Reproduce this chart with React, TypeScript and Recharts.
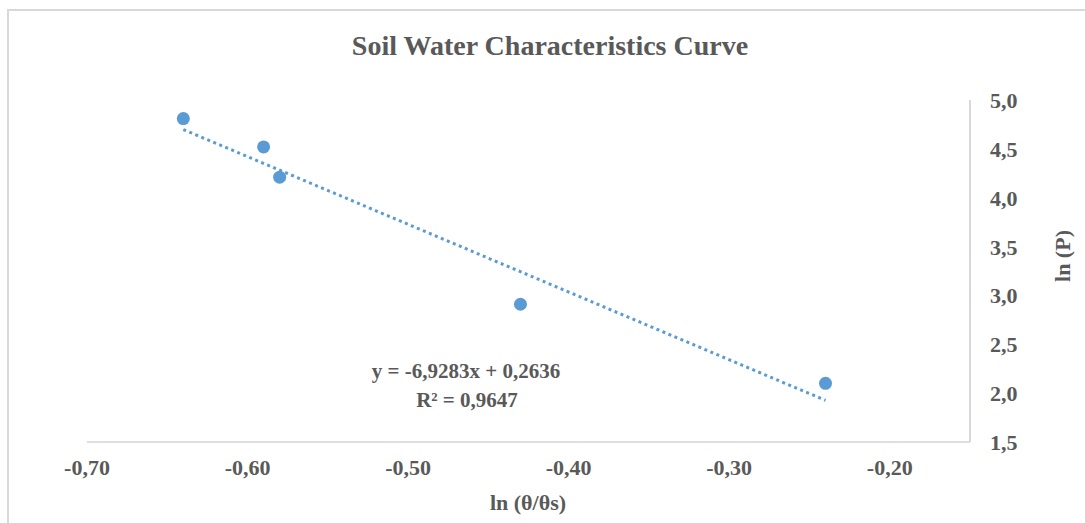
import React from "react";
import { ScatterChart, Scatter, XAxis, YAxis } from "recharts";

const xValues = [-0.64, -0.59, -0.58, -0.43, -0.24];
const yValues = [4.81, 4.52, 4.21, 2.91, 2.1];
const xTicks = [-0.7, -0.6, -0.5, -0.4, -0.3, -0.2];
const yTicks = [1.5, 2.0, 2.5, 3.0, 3.5, 4.0, 4.5, 5.0];
const slope = -6.9283;
const intercept = 0.2636;
const rSquared = 0.9647;

const title = "Soil Water Characteristics Curve";
const xTitle = "ln (θ/θs)";
const yTitle = "ln (P)";

const points = xValues.map((x, i) => ({ x, y: yValues[i] }));
const xMin = Math.min(...xValues);
const xMax = Math.max(...xValues);
const trend = [xMin, xMax].map((x) => ({ x, y: slope * x + intercept }));

const FONT = '"Liberation Serif", "Times New Roman", serif';
const TEXT = "#595959";
const BLUE = "#5B9BD5";
const AXIS = "#bfbfbf";

const fmtComma = (v: number, d: number) => v.toFixed(d).replace(".", ",");

const XTick = (props: any) => {
  const { x, y, payload } = props;
  return (
    <text x={x} y={y + 33} textAnchor="middle" fontFamily={FONT} fontSize={22} fontWeight="bold" fill={TEXT}>
      {fmtComma(payload.value, 2)}
    </text>
  );
};

const YTick = (props: any) => {
  const { x, y, payload } = props;
  return (
    <text x={x + 20} y={y + 8} textAnchor="start" fontFamily={FONT} fontSize={22} fontWeight="bold" fill={TEXT}>
      {fmtComma(payload.value, 1)}
    </text>
  );
};

const Dot = (props: any) => <circle cx={props.cx} cy={props.cy} r={6.5} fill={BLUE} />;
const NoDot = () => <g />;

export default function App() {
  return (
    <div style={{ position: "absolute", left: 0, top: 0, width: 1085, height: 523, overflow: "hidden", background: "#fff" }}>
      <div
        style={{
          position: "absolute",
          left: 7,
          top: 9,
          width: 1200,
          height: 700,
          border: "2px solid #d9d9d9",
        }}
      />
      <div style={{ position: "absolute", left: 0, top: 0 }}>
        <ScatterChart width={1085} height={523} margin={{ top: 100, left: 87, right: 0, bottom: 0 }}>
          <XAxis
            type="number"
            dataKey="x"
            domain={[-0.7, -0.15]}
            ticks={xTicks}
            allowDataOverflow
            height={81}
            tickLine={false}
            tickSize={0}
            tickMargin={0}
            axisLine={{ stroke: AXIS, strokeWidth: 1.2 }}
            tick={<XTick />}
          />
          <YAxis
            type="number"
            dataKey="y"
            orientation="right"
            domain={[1.5, 5]}
            ticks={yTicks}
            allowDataOverflow
            width={115}
            tickLine={false}
            tickSize={0}
            tickMargin={0}
            axisLine={{ stroke: AXIS, strokeWidth: 1.2 }}
            tick={<YTick />}
          />
          <Scatter
            data={trend}
            isAnimationActive={false}
            shape={<NoDot />}
            line={{ stroke: BLUE, strokeWidth: 3, strokeDasharray: "3 3.5" }}
            lineType="joint"
          />
          <Scatter data={points} isAnimationActive={false} shape={<Dot />} />
        </ScatterChart>
      </div>
      <svg width={1085} height={523} style={{ position: "absolute", left: 0, top: 0, pointerEvents: "none" }}>
        <text x={550} y={55} textAnchor="middle" fontFamily={FONT} fontSize={28} fontWeight="bold" fill={TEXT}>
          {title}
        </text>
        <text x={466} y={378} textAnchor="middle" fontFamily={FONT} fontSize={21} fontWeight="bold" fill={TEXT}>
          {`y = ${fmtComma(slope, 4)}x + ${fmtComma(intercept, 4)}`}
        </text>
        <text x={467} y={407} textAnchor="middle" fontFamily={FONT} fontSize={21} fontWeight="bold" fill={TEXT}>
          {`R² = ${fmtComma(rSquared, 4)}`}
        </text>
        <text x={528} y={510} textAnchor="middle" fontFamily={FONT} fontSize={22} fontWeight="bold" fill={TEXT}>
          {xTitle}
        </text>
        <text
          x={1062}
          y={256}
          textAnchor="middle"
          transform="rotate(-90 1062 256)"
          dy={8}
          fontFamily={FONT}
          fontSize={22}
          fontWeight="bold"
          fill={TEXT}
        >
          {yTitle}
        </text>
      </svg>
    </div>
  );
}
